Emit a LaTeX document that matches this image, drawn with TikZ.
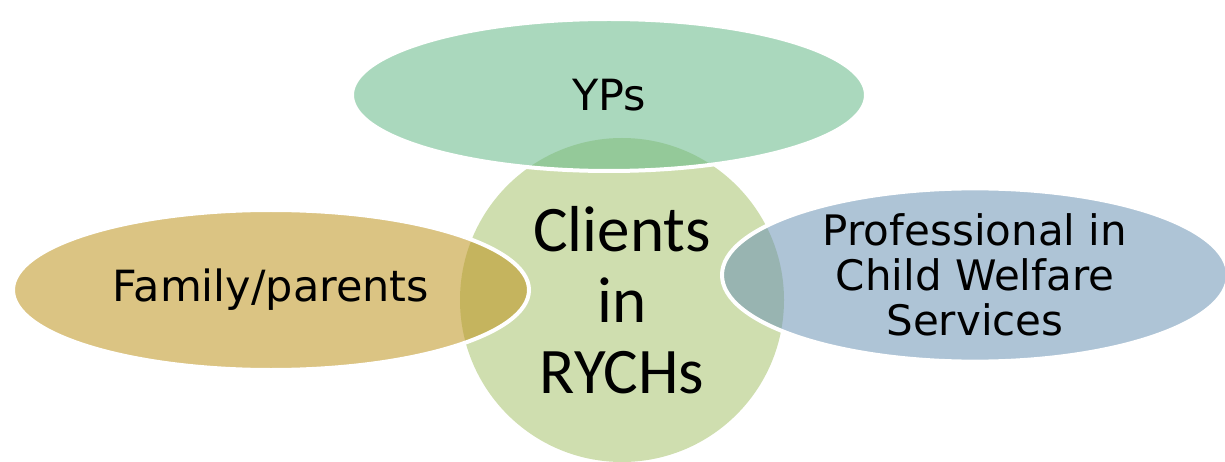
\documentclass[tikz,border=0pt]{standalone}
\usepackage{fontspec}
\setmainfont{DejaVu Sans}
\newfontfamily\hubfont{Carlito}
\usetikzlibrary{shapes.geometric}
\definecolor{clientgreen}{RGB}{207,222,175}
\definecolor{ypgreen}{RGB}{100,184,135}
\definecolor{familygold}{RGB}{189,147,29}
\definecolor{profblue}{RGB}{107,147,180}
\tikzset{
	hub/.style={circle,fill=clientgreen,minimum size=324pt,inner sep=0pt,align=center,
		font=\hubfont\fontsize{65}{71}\selectfont},
	group/.style={ellipse,draw=white,line width=4pt,fill opacity=0.55,text opacity=1,
		inner sep=0pt,align=center,font=\fontsize{43}{46}\selectfont}
}
\begin{document}
\begin{tikzpicture}[x=1pt,y=-1pt]
	\useasboundingbox (0,0) rectangle (1225,462);
	\node[hub] (clients) at (622,300) {Clients\\in\\RYCHs};
	
	\node[group,fill=ypgreen,minimum width=514pt,minimum height=152pt] (yps) at (609,95) {YPs};
	\node[group,fill=familygold,minimum width=516pt,minimum height=160pt] (family) at (271,290) {Family/parents};
	\node[group,fill=profblue,minimum width=506pt,minimum height=160pt,font=\fontsize{42}{45}\selectfont] (prof) at (975,275) {Professional in\\Child Welfare\\Services};
\end{tikzpicture}
\end{document}
